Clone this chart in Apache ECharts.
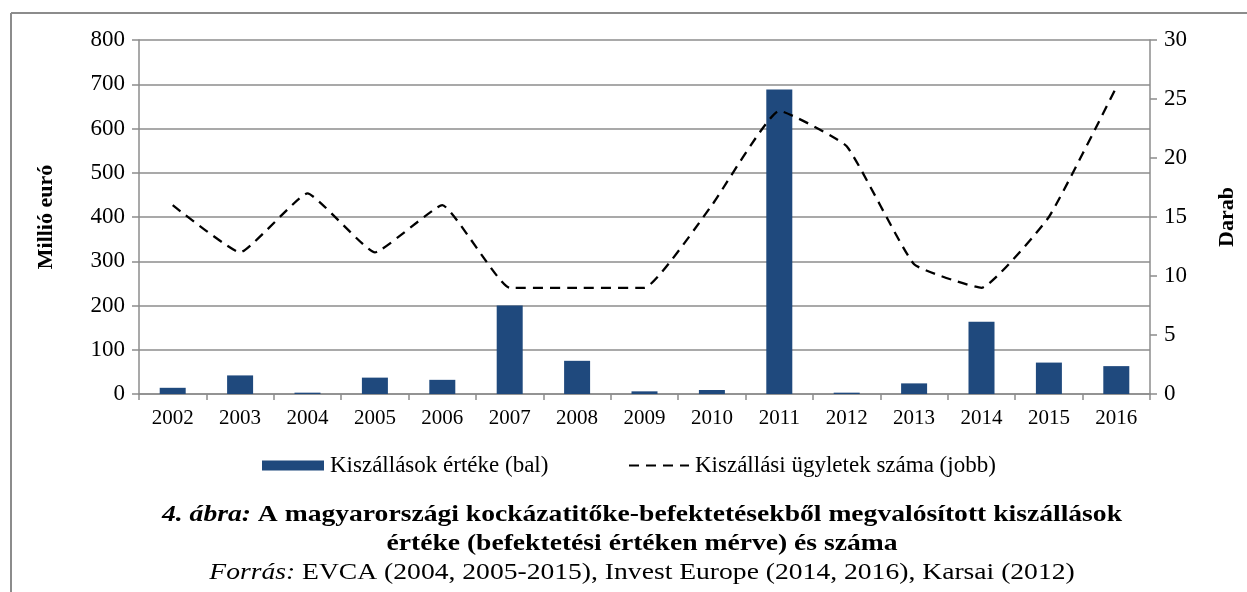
<!DOCTYPE html>
<html>
<head>
<meta charset="utf-8">
<script src="https://cdn.jsdelivr.net/npm/echarts@6/dist/echarts.min.js"></script>
<style>
html,body{margin:0;padding:0;background:#fff;}
#chart{width:1247px;height:592px;}
</style>
</head>
<body>
<div id="chart"></div>
<script>
const years = ['2002','2003','2004','2005','2006','2007','2008','2009','2010','2011','2012','2013','2014','2015','2016'];
const exitValues = [14, 42, 3, 37, 32, 200, 75, 6, 9, 688, 3, 24, 163, 71, 63];
const exitCounts = [16, 12, 17, 12, 16, 9, 9, 9, 16, 24, 21, 11, 9, 15, 26];
const barName = 'Kiszállások értéke (bal)';
const lineName = 'Kiszállási ügyletek száma (jobb)';
const leftAxisName = 'Millió euró';
const rightAxisName = 'Darab';
const captionLine1a = '4. ábra:';
const captionLine1b = ' A magyarországi kockázatitőke-befektetésekből megvalósított kiszállások';
const captionLine2 = 'értéke (befektetési értéken mérve) és száma';
const captionLine3a = 'Forrás:';
const captionLine3b = ' EVCA (2004, 2005-2015), Invest Europe (2014, 2016), Karsai (2012)';

const FONT = '"Liberation Serif", "Times New Roman", serif';
const GRID = '#8c8c8c';
const legendText = { fontFamily: FONT, fontSize: 23, color: '#000', padding: [0,0,0,1] };

const chart = echarts.init(document.getElementById('chart'));
chart.setOption({
  animation: false,
  backgroundColor: '#fff',
  textStyle: { fontFamily: FONT, color: '#000' },
  grid: { left: 139, right: 97, top: 40, bottom: 198, containLabel: false },
  legend: [
    {
      left: 257, top: 449,
      itemWidth: 62, itemHeight: 10,
      textStyle: legendText,
      data: [{ name: barName, icon: 'rect' }]
    },
    {
      left: 623, top: 449,
      itemWidth: 60, itemHeight: 10,
      textStyle: legendText,
      data: [{ name: lineName, itemStyle: { opacity: 0 } }]
    }
  ],
  xAxis: {
    type: 'category',
    data: years,
    boundaryGap: true,
    axisLine: { lineStyle: { color: GRID, width: 1.5 } },
    axisTick: { show: true, interval: 0, length: 6, lineStyle: { color: GRID, width: 1.5 } },
    axisLabel: { fontFamily: FONT, fontSize: 21, color: '#000', margin: 14, interval: 0 }
  },
  yAxis: [
    {
      type: 'value', min: 0, max: 800, interval: 100,
      name: leftAxisName, nameLocation: 'middle', nameRotate: 90, nameGap: 82,
      nameTextStyle: { fontFamily: FONT, fontSize: 22, fontWeight: 'bold', color: '#000' },
      axisLine: { show: true, lineStyle: { color: GRID, width: 1.5 } },
      axisTick: { show: true, length: 7, lineStyle: { color: GRID, width: 1.5 } },
      axisLabel: { fontFamily: FONT, fontSize: 23, color: '#000', margin: 14 },
      splitLine: { show: true, lineStyle: { color: GRID, width: 1.5 } }
    },
    {
      type: 'value', min: 0, max: 30, interval: 5,
      name: rightAxisName, nameLocation: 'middle', nameRotate: 90, nameGap: 66,
      nameTextStyle: { fontFamily: FONT, fontSize: 22, fontWeight: 'bold', color: '#000' },
      axisLine: { show: true, lineStyle: { color: GRID, width: 1.5 } },
      axisTick: { show: true, length: 7, lineStyle: { color: GRID, width: 1.5 } },
      axisLabel: { fontFamily: FONT, fontSize: 23, color: '#000', margin: 14 },
      splitLine: { show: false }
    }
  ],
  series: [
    {
      name: barName, type: 'bar', yAxisIndex: 0,
      data: exitValues, barWidth: 26,
      itemStyle: { color: '#1F497D' }
    },
    {
      name: lineName, type: 'line', yAxisIndex: 1,
      data: exitCounts, smooth: 0.12,
      symbol: 'none', showSymbol: false,
      lineStyle: { color: '#000', width: 2.3, type: [10, 7] },
      itemStyle: { color: '#000' }
    }
  ],
  graphic: [
    { type: 'line', shape: { x1: 11, y1: 13, x2: 1247, y2: 13 }, style: { stroke: GRID, lineWidth: 2 } },
    { type: 'line', shape: { x1: 11, y1: 13, x2: 11, y2: 592 }, style: { stroke: GRID, lineWidth: 2 } },
    {
      type: 'text', x: 642, y: 515, scaleX: 1.2,
      style: {
        text: '{bi|' + captionLine1a + '}{b|' + captionLine1b + '}',
        align: 'center', verticalAlign: 'middle',
        rich: {
          bi: { fontFamily: FONT, fontSize: 23, fontWeight: 'bold', fontStyle: 'italic', fill: '#000' },
          b: { fontFamily: FONT, fontSize: 23, fontWeight: 'bold', fill: '#000' }
        }
      }
    },
    {
      type: 'text', x: 642, y: 544, scaleX: 1.2,
      style: {
        text: captionLine2, align: 'center', verticalAlign: 'middle',
        font: 'bold 23px ' + FONT, fill: '#000'
      }
    },
    {
      type: 'text', x: 642, y: 573, scaleX: 1.2,
      style: {
        text: '{i|' + captionLine3a + '}{n|' + captionLine3b + '}',
        align: 'center', verticalAlign: 'middle',
        rich: {
          i: { fontFamily: FONT, fontSize: 23, fontStyle: 'italic', fill: '#000' },
          n: { fontFamily: FONT, fontSize: 23, fill: '#000' }
        }
      }
    }
  ]
});
</script>
</body>
</html>
